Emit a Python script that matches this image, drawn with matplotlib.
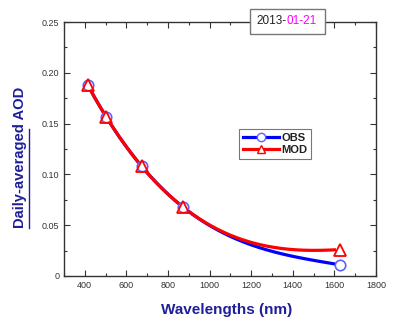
import numpy as np
import matplotlib.pyplot as plt
from matplotlib.lines import Line2D

plt.rcParams['font.family'] = ['Liberation Sans', 'DejaVu Sans']

# Data
wavelengths = np.array([415, 500, 675, 870, 1625])
obs = np.array([0.188, 0.157, 0.108, 0.068, 0.011])
mod = np.array([0.188, 0.157, 0.108, 0.068, 0.026])
date_year = "2013-"
date_md = "01-21"

navy = '#1f1f99'

fig = plt.figure(figsize=(3.95, 3.25), dpi=100)
ax = fig.add_axes([0.162, 0.151, 0.79, 0.781])

# smooth fitted curves (cubic polynomial fit of each series)
xs = np.linspace(wavelengths[0], 1600, 200)
obs_fit = np.polyval(np.polyfit(wavelengths, obs, 3), xs)
mod_fit = np.polyval(np.polyfit(wavelengths, mod, 3), xs)
ax.plot(xs, obs_fit, color='#0000ff', lw=2.3, zorder=2)
ax.plot(xs, mod_fit, color='#ff0000', lw=2.3, zorder=3)

ax.plot(wavelengths, obs, 'o', ms=7.5, mfc='white', mec='#6060ff', mew=1.2, zorder=4)
ax.plot(wavelengths, mod, '^', ms=8, mfc='none', mec='#ff0000', mew=1.3, zorder=5)

ax.set_xlim(300, 1800)
ax.set_ylim(0, 0.25)
ax.set_xticks(np.arange(400, 1801, 200))
ax.set_xticks(np.arange(300, 1801, 100), minor=True)
ax.set_yticks(np.arange(0, 0.251, 0.05))
ax.set_yticks(np.arange(0, 0.251, 0.025), minor=True)
ax.set_yticklabels(['0'] + ['%.2f' % v for v in np.arange(0.05, 0.251, 0.05)])
ax.tick_params(which='both', direction='in', top=True, right=True,
               labelsize=6.5, labelcolor='#333333', color='#333333')
ax.tick_params(which='major', length=4, width=0.8)
ax.tick_params(which='minor', length=2.5, width=0.8)
for s in ax.spines.values():
    s.set_color('#333333')
    s.set_linewidth(1.0)

ax.set_xlabel('Wavelengths (nm)', fontsize=11, fontweight='bold', color=navy)
ax.xaxis.set_label_coords(0.52, -0.108)
ax.set_ylabel('Daily-averaged AOD', fontsize=10.6, fontweight='bold', color=navy)
ax.yaxis.set_label_coords(-0.117, 0.466)
# underline under "Daily-averaged"
fig.add_artist(Line2D([0.074, 0.074], [0.298, 0.602], color=navy, lw=1.0,
                      transform=fig.transFigure))

# date box on top spine
box = plt.Rectangle((0.595, 0.955), 0.24, 0.095, transform=ax.transAxes,
                    facecolor='white', edgecolor='#777777', lw=1.0,
                    clip_on=False, zorder=9)
ax.add_patch(box)
ax.text(0.712, 1.006, date_year, transform=ax.transAxes, fontsize=8.5,
        color='#222222', ha='right', va='center', zorder=10)
ax.text(0.712, 1.006, date_md, transform=ax.transAxes, fontsize=8.5,
        color='#ff00ff', ha='left', va='center', zorder=10)

handles = [Line2D([], [], color='#0000ff', lw=2.3, marker='o', ms=6,
                  mfc='white', mec='#6060ff', mew=1.0),
           Line2D([], [], color='#ff0000', lw=2.3, marker='^', ms=6,
                  mfc='white', mec='#ff0000', mew=1.0)]
leg = ax.legend(handles, ['OBS', 'MOD'], loc='center', bbox_to_anchor=(0.677, 0.52),
                fancybox=False, framealpha=1, edgecolor='#777777',
                handlelength=3.2, handletextpad=0.2, labelspacing=0.2,
                borderpad=0.35, prop={'weight': 'bold', 'size': 8})
leg.get_frame().set_linewidth(0.8)
for txt in leg.get_texts():
    txt.set_color('#222222')

fig.savefig('out.png', dpi=100)
